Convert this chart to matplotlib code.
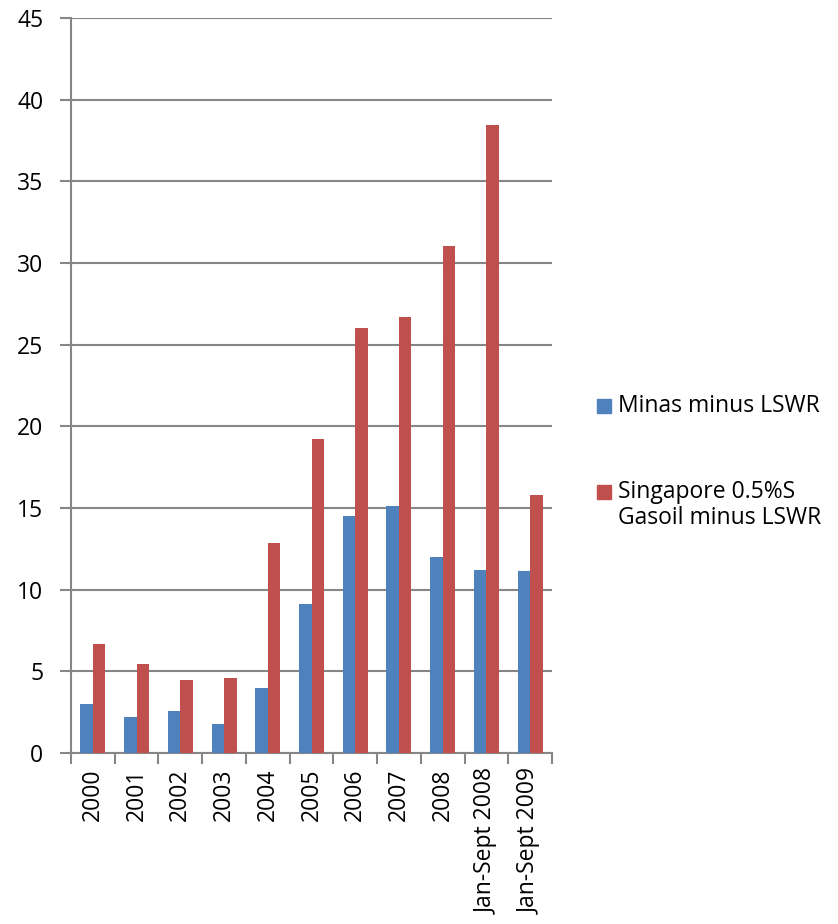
import matplotlib
matplotlib.use("Agg")
import matplotlib.pyplot as plt
import numpy as np
from matplotlib.patches import Rectangle

categories = ["2000", "2001", "2002", "2003", "2004", "2005", "2006", "2007", "2008",
              "Jan-Sept 2008", "Jan-Sept 2009"]
minas = [3.0, 2.2, 2.6, 1.75, 4.0, 9.1, 14.5, 15.15, 12.0, 11.2, 11.15]
singapore = [6.7, 5.45, 4.5, 4.6, 12.85, 19.2, 26.0, 26.7, 31.05, 38.45, 15.8]
series_names = ["Minas minus LSWR", "Singapore 0.5%S\nGasoil minus LSWR"]
yticks = [0, 5, 10, 15, 20, 25, 30, 35, 40, 45]

blue = "#4F81BD"
red = "#C0504D"
grey = "#868686"
plt.rcParams['font.family'] = ['Open Sans', 'DejaVu Sans']
FS = 16.5

W, H = 838, 924
fig = plt.figure(figsize=(W / 100, H / 100), dpi=100)
ax = fig.add_axes([71 / W, 1 - 753 / H, (552 - 71) / W, (753 - 18) / H])

x = np.arange(len(categories))
bw = 1 / 3.5
ax.bar(x - bw / 2, minas, width=bw, color=blue, zorder=3)
ax.bar(x + bw / 2, singapore, width=bw, color=red, zorder=3)

ax.set_xlim(-0.5, len(categories) - 0.5)
ax.set_ylim(0, 45)
ax.set_yticks(yticks)
ax.set_yticklabels([str(v) for v in yticks], fontsize=FS)
ax.yaxis.grid(True, color=grey, linewidth=1.5, zorder=0)
ax.set_axisbelow(True)

ax.set_xticks(x)
ax.set_xticklabels(categories, rotation=90, fontsize=FS, va='top', ha='center')
ax.set_xticks(np.arange(-0.5, len(categories)), minor=True)
ax.tick_params(axis='x', which='major', length=0, pad=11)
ax.tick_params(axis='x', which='minor', length=8, width=1.5, color=grey, direction='out')
ax.tick_params(axis='y', length=8, width=1.5, color=grey, direction='out', pad=12)

for s in ['top', 'right']:
    ax.spines[s].set_visible(False)
for s in ['left', 'bottom']:
    ax.spines[s].set_color(grey)
    ax.spines[s].set_linewidth(1.5)

# legend
sq = 14
fig.patches.append(Rectangle((597 / W, 1 - 413 / H), sq / W, sq / H,
                             transform=fig.transFigure, color=blue, figure=fig))
fig.text(618 / W, 1 - 406 / H, series_names[0], fontsize=FS, va='center', ha='left')
fig.patches.append(Rectangle((597 / W, 1 - 499 / H), sq / W, sq / H,
                             transform=fig.transFigure, color=red, figure=fig))
fig.text(618 / W, 1 - 505 / H, series_names[1], fontsize=FS, va='center', ha='left',
         linespacing=1.1)

fig.savefig("out.png", dpi=100)
